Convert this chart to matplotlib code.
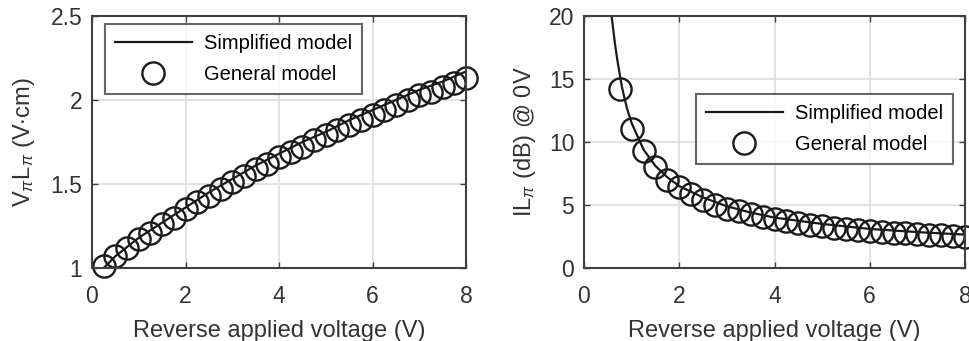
import matplotlib.pyplot as plt

plt.rcParams['font.family'] = ['Liberation Sans', 'DejaVu Sans']
plt.rcParams['mathtext.fontset'] = 'custom'
plt.rcParams['mathtext.rm'] = 'Liberation Sans'
plt.rcParams['mathtext.it'] = 'Liberation Sans:italic'

# left panel: VpiLpi vs reverse voltage
vl_general_x = [0.25, 0.5, 0.75, 1.0, 1.25, 1.5, 1.75, 2.0, 2.25, 2.5, 2.75, 3.0, 3.25, 3.5, 3.75, 4.0,
                4.25, 4.5, 4.75, 5.0, 5.25, 5.5, 5.75, 6.0, 6.25, 6.5, 6.75, 7.0, 7.25, 7.5, 7.75, 8.0]
vl_general_y = [1.01, 1.07, 1.12, 1.17, 1.21, 1.26, 1.30, 1.35, 1.39, 1.43, 1.47, 1.51, 1.55, 1.59, 1.62, 1.66,
                1.69, 1.72, 1.76, 1.79, 1.82, 1.85, 1.88, 1.91, 1.94, 1.97, 2.00, 2.03, 2.05, 2.08, 2.10, 2.13]
vl_simple_x = [0.25, 0.5, 1.0, 1.5, 2.0, 2.5, 3.0, 3.5, 4.0, 4.5, 5.0, 5.5, 6.0, 6.5, 7.0, 7.5, 8.0]
vl_simple_y = [1.00, 1.07, 1.18, 1.27, 1.36, 1.45, 1.53, 1.61, 1.68, 1.75, 1.81, 1.88, 1.94, 2.00, 2.06, 2.11, 2.17]

# right panel: IL at 0V vs reverse voltage
il_general_x = [0.75, 1.0, 1.25, 1.5, 1.75, 2.0, 2.25, 2.5, 2.75, 3.0, 3.25, 3.5, 3.75, 4.0, 4.25,
                4.5, 4.75, 5.0, 5.25, 5.5, 5.75, 6.0, 6.25, 6.5, 6.75, 7.0, 7.25, 7.5, 7.75, 8.0]
il_general_y = [14.2, 11.0, 9.3, 8.0, 7.0, 6.4, 5.9, 5.4, 5.0, 4.7, 4.5, 4.3, 4.05, 3.85, 3.7,
                3.55, 3.4, 3.3, 3.2, 3.1, 3.0, 2.95, 2.85, 2.8, 2.75, 2.7, 2.65, 2.6, 2.55, 2.5]
il_simple_x = [0.58, 0.65, 0.7, 0.8, 0.9, 1.0, 1.25, 1.5, 1.75, 2.0, 2.5, 3.0, 3.5, 4.0, 5.0, 6.0, 7.0, 8.0]
il_simple_y = [20.0, 17.8, 16.5, 14.3, 12.7, 11.5, 9.4, 8.1, 7.2, 6.5, 5.6, 4.9, 4.4, 4.0, 3.5, 3.1, 2.85, 2.65]

ink = '#1a1a1a'
axcol = '#404040'
txtcol = '#333333'
tick_fs = 16.5
label_fs = 17
leg_fs = 14.5

fig = plt.figure(figsize=(9.69, 3.41), dpi=100)
ax1 = fig.add_axes([92/969, 1 - 268/341, 374/969, 252/341])
ax2 = fig.add_axes([584/969, 1 - 268/341, 381/969, 252/341])


def style(ax):
    ax.grid(True, color='#dedede', linewidth=1.2)
    ax.set_axisbelow(True)
    for s in ax.spines.values():
        s.set_color(axcol)
        s.set_linewidth(1.5)
    ax.tick_params(direction='in', top=True, right=True, length=4, width=1.0,
                   color=axcol, labelcolor=txtcol, labelsize=tick_fs)
    ax.tick_params(axis='y', pad=7)
    ax.tick_params(axis='x', pad=12)
    ax.set_xlim(0, 8)
    ax.set_xticks([0, 2, 4, 6, 8])
    ax.set_xlabel('Reverse applied voltage (V)', fontsize=label_fs, color=txtcol, labelpad=9)


def legend(ax, loc, anchor):
    leg = ax.legend(loc=loc, bbox_to_anchor=anchor, fontsize=leg_fs,
                    frameon=True, fancybox=False, edgecolor=axcol, handlelength=3.8,
                    borderpad=0.5, labelspacing=0.6, handletextpad=0.6, borderaxespad=0)
    leg.get_frame().set_linewidth(1.5)
    leg.set_zorder(5)


ax1.plot(vl_simple_x, vl_simple_y, color=ink, linewidth=1.6, label='Simplified model')
ax1.plot(vl_general_x, vl_general_y, linestyle='none', marker='o', markersize=16,
         markerfacecolor='none', markeredgecolor=ink, markeredgewidth=1.7,
         clip_on=False, label='General model')
style(ax1)
ax1.set_ylim(1, 2.5)
ax1.set_yticks([1, 1.5, 2, 2.5])
ax1.set_yticklabels(['1', '1.5', '2', '2.5'])
ax1.set_ylabel(r'V$_{\pi}$L$_{\pi}$ (V$\cdot$cm)', fontsize=label_fs, color=txtcol, labelpad=10)
legend(ax1, 'upper left', (13/374, 1 - 8/252))

ax2.plot(il_simple_x, il_simple_y, color=ink, linewidth=1.6, label='Simplified model')
ax2.plot(il_general_x, il_general_y, linestyle='none', marker='o', markersize=16,
         markerfacecolor='none', markeredgecolor=ink, markeredgewidth=1.7,
         clip_on=False, label='General model')
style(ax2)
ax2.set_ylim(0, 20)
ax2.set_yticks([0, 5, 10, 15, 20])
ax2.set_ylabel(r'IL$_{\pi}$ (dB) @ 0V', fontsize=label_fs, color=txtcol, labelpad=8)
legend(ax2, 'upper right', (1 - 12/381, 1 - 78/252))

fig.savefig('out.png', dpi=100)
